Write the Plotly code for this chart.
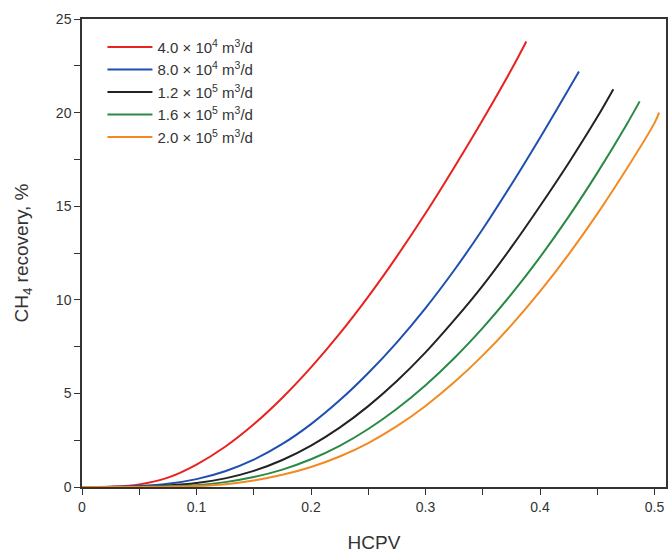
import plotly.graph_objects as go

# Data
names = ["4.0 × 10<sup>4</sup> m<sup>3</sup>/d", "8.0 × 10<sup>4</sup> m<sup>3</sup>/d",
         "1.2 × 10<sup>5</sup> m<sup>3</sup>/d", "1.6 × 10<sup>5</sup> m<sup>3</sup>/d",
         "2.0 × 10<sup>5</sup> m<sup>3</sup>/d"]
colors = ["#e8231f", "#1f4fb0", "#222222", "#2a8a45", "#f28a22"]

x_red = [0, 0.025, 0.05, 0.075, 0.1, 0.125, 0.15, 0.175, 0.2, 0.225, 0.25, 0.275, 0.3, 0.325, 0.35, 0.375, 0.388]
y_red = [0, 0.02, 0.14, 0.50, 1.20, 2.15, 3.35, 4.77, 6.39, 8.19, 10.17, 12.32, 14.62, 17.07, 19.62, 22.3, 23.8]

x_blue = [0, 0.025, 0.05, 0.075, 0.1, 0.125, 0.15, 0.175, 0.2, 0.225, 0.25, 0.275, 0.3, 0.325, 0.35, 0.375, 0.4, 0.434]
y_blue = [0, 0.01, 0.05, 0.17, 0.42, 0.84, 1.46, 2.30, 3.36, 4.63, 6.09, 7.73, 9.56, 11.58, 13.78, 16.16, 18.66, 22.2]

x_black = [0, 0.025, 0.05, 0.075, 0.1, 0.125, 0.15, 0.175, 0.2, 0.225, 0.25, 0.275, 0.3, 0.325, 0.35, 0.375, 0.4, 0.425, 0.45, 0.464]
y_black = [0, 0.005, 0.02, 0.08, 0.21, 0.46, 0.86, 1.44, 2.21, 3.17, 4.32, 5.66, 7.19, 8.91, 10.76, 12.81, 15.01, 17.31, 19.76, 21.25]

x_green = [0, 0.025, 0.05, 0.075, 0.1, 0.125, 0.15, 0.175, 0.2, 0.225, 0.25, 0.275, 0.3, 0.325, 0.35, 0.375, 0.4, 0.425, 0.45, 0.475, 0.487]
y_green = [0, 0.002, 0.01, 0.04, 0.1, 0.26, 0.53, 0.93, 1.48, 2.2, 3.1, 4.18, 5.44, 6.88, 8.5, 10.3, 12.28, 14.44, 16.78, 19.3, 20.6]

x_orange = [0, 0.025, 0.05, 0.075, 0.1, 0.125, 0.15, 0.175, 0.2, 0.225, 0.25, 0.275, 0.3, 0.325, 0.35, 0.375, 0.4, 0.425, 0.45, 0.475, 0.5, 0.504]
y_orange = [0, 0.001, 0.005, 0.02, 0.05, 0.15, 0.35, 0.65, 1.07, 1.63, 2.35, 3.25, 4.33, 5.59, 7.03, 8.65, 10.45, 12.43, 14.59, 16.93, 19.45, 20.0]

xs = [x_red, x_blue, x_black, x_green, x_orange]
ys = [y_red, y_blue, y_black, y_green, y_orange]

x_tickvals = [0, 0.1, 0.2, 0.3, 0.4, 0.5]
x_ticktext = ["0", "0.1", "0.2", "0.3", "0.4", "0.5"]
y_tickvals = [0, 5, 10, 15, 20, 25]

FONT = "Liberation Sans, Arial, sans-serif"
INK = "#333333"

fig = go.Figure()
for x, y, n, c in zip(xs, ys, names, colors):
    fig.add_trace(go.Scatter(x=x, y=y, mode="lines", name=n,
                             line=dict(color=c, width=2, shape="spline", smoothing=1.0)))

axis_common = dict(showline=True, linecolor=INK, linewidth=1.5, mirror=True,
                   ticks="outside", ticklen=6, tickwidth=1.2, tickcolor=INK,
                   showgrid=False, zeroline=False,
                   tickfont=dict(family=FONT, size=14, color=INK))

fig.update_xaxes(range=[0, 0.51], tickvals=x_tickvals, ticktext=x_ticktext,
                 minor=dict(ticks="outside", dtick=0.05, tick0=0, ticklen=6, tickwidth=1.2, tickcolor=INK),
                 title=dict(text="HCPV", font=dict(family=FONT, size=19, color=INK), standoff=22),
                 **axis_common)
fig.update_yaxes(range=[0, 25], tickvals=y_tickvals,
                 minor=dict(ticks="outside", dtick=2.5, tick0=0, ticklen=6, tickwidth=1.2, tickcolor=INK),
                 title=dict(text="CH<sub>4</sub> recovery, %", font=dict(family=FONT, size=19, color=INK), standoff=22),
                 **axis_common)

fig.update_layout(
    width=671, height=558,
    margin=dict(l=82, r=3, t=19, b=71),
    plot_bgcolor="white", paper_bgcolor="white",
    legend=dict(x=0.035, y=0.975, xanchor="left", yanchor="top",
                font=dict(family=FONT, size=15, color=INK),
                bgcolor="rgba(0,0,0,0)", tracegroupgap=0, itemwidth=45),
    showlegend=True,
)

fig.write_html("out.html")
